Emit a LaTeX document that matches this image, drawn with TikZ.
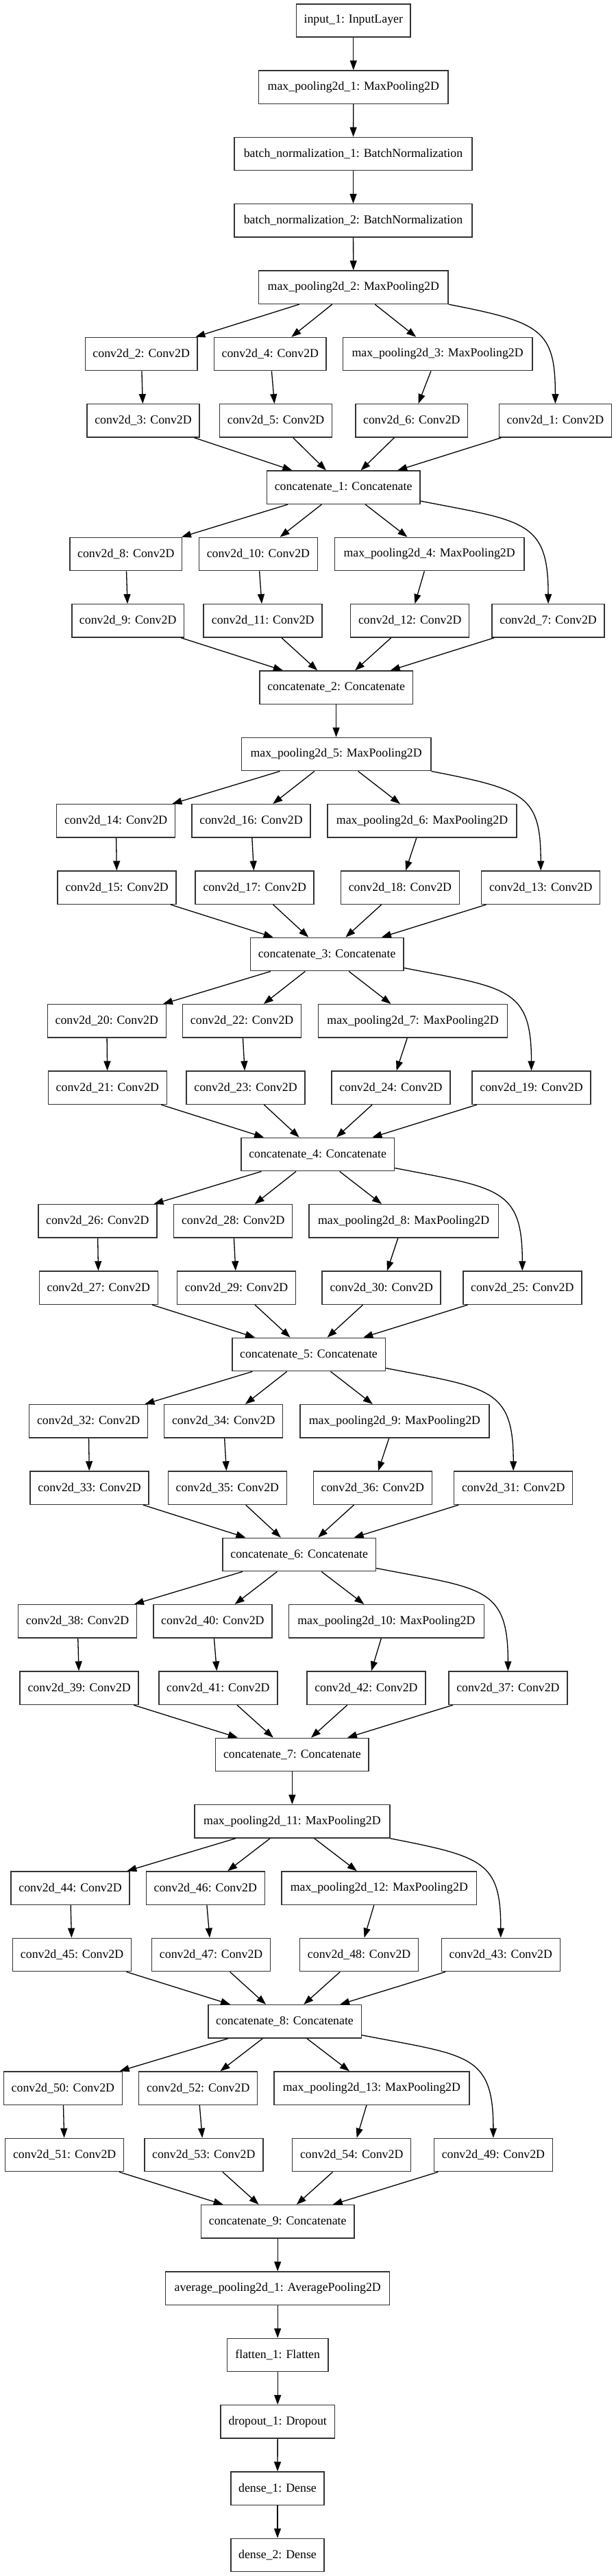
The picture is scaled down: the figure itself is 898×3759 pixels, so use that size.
\documentclass[tikz,border=0pt]{standalone}
\usepackage{fontspec}
\setmainfont{Liberation Serif}
\usetikzlibrary{arrows.meta}
\newcommand\ry[1]{-29.9-97.33*#1}
\newcommand\incblock[9]{%
 \draw[edge] (#1) -- (#2);
 \draw[edge] (#1) -- (#3);
 \draw[edge] (#1) -- (#4);
 \draw[edge] (#1o) to[out=-11,in=90,out looseness=1.65,in looseness=1.3] (#8.north);
 \draw[edge] (#2) -- (#5);
 \draw[edge] (#3) -- (#6);
 \draw[edge] (#4) -- (#7);
 \draw[edge] (#5) -- (#9);
 \draw[edge] (#6) -- (#9);
 \draw[edge] (#7) -- (#9);
 \draw[edge] (#8) -- (#9);
}
\begin{document}
\begin{tikzpicture}[x=1pt,y=1pt,
  box/.style={draw=black!80, line width=1.5pt, rectangle, minimum height=48.3pt, inner sep=0pt,
    font=\fontsize{17.8}{20}\selectfont},
  cA/.style={box, minimum width=163.8pt},
  cB/.style={box, minimum width=173pt},
  cat/.style={box, minimum width=223.5pt},
  mpA/.style={box, minimum width=276.3pt},
  mpB/.style={box, minimum width=284.8pt},
  edge/.style={draw=black, line width=1.3pt, -{Triangle[length=14pt,width=10pt]}}]
\useasboundingbox (0,0) rectangle (898,-3759);
% trunk
\node[box, minimum width=166.7pt] (in1) at (515.8,{\ry{0}}) {input\_1: InputLayer};
\node[mpA] (mp1) at (515.8,{\ry{1}}) {max\_pooling2d\_1: MaxPooling2D};
\node[box, minimum width=347pt] (bn1) at (515.5,{\ry{2}}) {batch\_normalization\_1: BatchNormalization};
\node[box, minimum width=347pt] (bn2) at (515.5,{\ry{3}}) {batch\_normalization\_2: BatchNormalization};
\node[mpA] (mp2) at (515.8,{\ry{4}}) {max\_pooling2d\_2: MaxPooling2D};
% block 1
\node[cA] (c2) at (206.2,{\ry{5}}) {conv2d\_2: Conv2D};
\node[cA] (c4) at (394.3,{\ry{5}}) {conv2d\_4: Conv2D};
\node[mpA] (mp3) at (638.6,{\ry{5}}) {max\_pooling2d\_3: MaxPooling2D};
\node[cA] (c3) at (209.0,{\ry{6}}) {conv2d\_3: Conv2D};
\node[cA] (c5) at (402.6,{\ry{6}}) {conv2d\_5: Conv2D};
\node[cA] (c6) at (600.8,{\ry{6}}) {conv2d\_6: Conv2D};
\node[cA] (c1) at (810.4,{\ry{6}}) {conv2d\_1: Conv2D};
\node[cat] (cat1) at (501.1,{\ry{7}}) {concatenate\_1: Concatenate};
% block 2
\node[cA] (c8) at (183.8,{\ry{8}}) {conv2d\_8: Conv2D};
\node[cB] (c10) at (376.9,{\ry{8}}) {conv2d\_10: Conv2D};
\node[mpA] (mp4) at (626.6,{\ry{8}}) {max\_pooling2d\_4: MaxPooling2D};
\node[cA] (c9) at (186.7,{\ry{9}}) {conv2d\_9: Conv2D};
\node[cB] (c11) at (383.7,{\ry{9}}) {conv2d\_11: Conv2D};
\node[cB] (c12) at (598.2,{\ry{9}}) {conv2d\_12: Conv2D};
\node[cA] (c7) at (800.1,{\ry{9}}) {conv2d\_7: Conv2D};
\node[cat] (cat2) at (490.6,{\ry{10}}) {concatenate\_2: Concatenate};
\node[mpA] (mp5) at (490.6,{\ry{11}}) {max\_pooling2d\_5: MaxPooling2D};
% block 3
\node[cB] (c14) at (169.2,{\ry{12}}) {conv2d\_14: Conv2D};
\node[cB] (c16) at (366.5,{\ry{12}}) {conv2d\_16: Conv2D};
\node[mpA] (mp6) at (616.0,{\ry{12}}) {max\_pooling2d\_6: MaxPooling2D};
\node[cB] (c15) at (170.7,{\ry{13}}) {conv2d\_15: Conv2D};
\node[cB] (c17) at (371.7,{\ry{13}}) {conv2d\_17: Conv2D};
\node[cB] (c18) at (583.9,{\ry{13}}) {conv2d\_18: Conv2D};
\node[cB] (c13) at (789.2,{\ry{13}}) {conv2d\_13: Conv2D};
\node[cat] (cat3) at (477.1,{\ry{14}}) {concatenate\_3: Concatenate};
% block 4
\node[cB] (c20) at (155.8,{\ry{15}}) {conv2d\_20: Conv2D};
\node[cB] (c22) at (353.1,{\ry{15}}) {conv2d\_22: Conv2D};
\node[mpA] (mp7) at (602.5,{\ry{15}}) {max\_pooling2d\_7: MaxPooling2D};
\node[cB] (c21) at (156.9,{\ry{16}}) {conv2d\_21: Conv2D};
\node[cB] (c23) at (358.5,{\ry{16}}) {conv2d\_23: Conv2D};
\node[cB] (c24) at (570.4,{\ry{16}}) {conv2d\_24: Conv2D};
\node[cB] (c19) at (775.5,{\ry{16}}) {conv2d\_19: Conv2D};
\node[cat] (cat4) at (463.6,{\ry{17}}) {concatenate\_4: Concatenate};
% block 5
\node[cB] (c26) at (142.3,{\ry{18}}) {conv2d\_26: Conv2D};
\node[cB] (c28) at (340.2,{\ry{18}}) {conv2d\_28: Conv2D};
\node[mpA] (mp8) at (589.1,{\ry{18}}) {max\_pooling2d\_8: MaxPooling2D};
\node[cB] (c27) at (143.8,{\ry{19}}) {conv2d\_27: Conv2D};
\node[cB] (c29) at (345.1,{\ry{19}}) {conv2d\_29: Conv2D};
\node[cB] (c30) at (556.7,{\ry{19}}) {conv2d\_30: Conv2D};
\node[cB] (c25) at (762.3,{\ry{19}}) {conv2d\_25: Conv2D};
\node[cat] (cat5) at (450.5,{\ry{20}}) {concatenate\_5: Concatenate};
% block 6
\node[cB] (c32) at (129.2,{\ry{21}}) {conv2d\_32: Conv2D};
\node[cB] (c34) at (326.2,{\ry{21}}) {conv2d\_34: Conv2D};
\node[mpA] (mp9) at (575.9,{\ry{21}}) {max\_pooling2d\_9: MaxPooling2D};
\node[cB] (c33) at (130.6,{\ry{22}}) {conv2d\_33: Conv2D};
\node[cB] (c35) at (331.9,{\ry{22}}) {conv2d\_35: Conv2D};
\node[cB] (c36) at (543.8,{\ry{22}}) {conv2d\_36: Conv2D};
\node[cB] (c31) at (749.2,{\ry{22}}) {conv2d\_31: Conv2D};
\node[cat] (cat6) at (436.7,{\ry{23}}) {concatenate\_6: Concatenate};
% block 7
\node[cB] (c38) at (113.1,{\ry{24}}) {conv2d\_38: Conv2D};
\node[cB] (c40) at (310.4,{\ry{24}}) {conv2d\_40: Conv2D};
\node[mpB] (mp10) at (563.9,{\ry{24}}) {max\_pooling2d\_10: MaxPooling2D};
\node[cB] (c39) at (115.7,{\ry{25}}) {conv2d\_39: Conv2D};
\node[cB] (c41) at (318.4,{\ry{25}}) {conv2d\_41: Conv2D};
\node[cB] (c42) at (534.4,{\ry{25}}) {conv2d\_42: Conv2D};
\node[cB] (c37) at (741.4,{\ry{25}}) {conv2d\_37: Conv2D};
\node[cat] (cat7) at (426.4,{\ry{26}}) {concatenate\_7: Concatenate};
\node[mpB] (mp11) at (426.4,{\ry{27}}) {max\_pooling2d\_11: MaxPooling2D};
% block 8
\node[cB] (c44) at (102.5,{\ry{28}}) {conv2d\_44: Conv2D};
\node[cB] (c46) at (299.8,{\ry{28}}) {conv2d\_46: Conv2D};
\node[mpB] (mp12) at (553.3,{\ry{28}}) {max\_pooling2d\_12: MaxPooling2D};
\node[cB] (c45) at (105.1,{\ry{29}}) {conv2d\_45: Conv2D};
\node[cB] (c47) at (308.1,{\ry{29}}) {conv2d\_47: Conv2D};
\node[cB] (c48) at (524.1,{\ry{29}}) {conv2d\_48: Conv2D};
\node[cB] (c43) at (730.8,{\ry{29}}) {conv2d\_43: Conv2D};
\node[cat] (cat8) at (415.5,{\ry{30}}) {concatenate\_8: Concatenate};
% block 9
\node[cB] (c50) at (91.9,{\ry{31}}) {conv2d\_50: Conv2D};
\node[cB] (c52) at (289.2,{\ry{31}}) {conv2d\_52: Conv2D};
\node[mpB] (mp13) at (542.4,{\ry{31}}) {max\_pooling2d\_13: MaxPooling2D};
\node[cB] (c51) at (94.2,{\ry{32}}) {conv2d\_51: Conv2D};
\node[cB] (c53) at (297.3,{\ry{32}}) {conv2d\_53: Conv2D};
\node[cB] (c54) at (513.2,{\ry{32}}) {conv2d\_54: Conv2D};
\node[cB] (c49) at (719.9,{\ry{32}}) {conv2d\_49: Conv2D};
\node[cat] (cat9) at (405.2,{\ry{33}}) {concatenate\_9: Concatenate};
% head
\node[box, minimum width=327pt] (avg) at (405.2,{\ry{34}}) {average\_pooling2d\_1: AveragePooling2D};
\node[box, minimum width=147.2pt] (flat) at (405.2,{\ry{35}}) {flatten\_1: Flatten};
\node[box, minimum width=166.7pt] (drop) at (405.2,{\ry{36}}) {dropout\_1: Dropout};
\node[box, minimum width=136.3pt] (d1) at (405.0,{\ry{37}}) {dense\_1: Dense};
\node[box, minimum width=136.3pt] (d2) at (405.0,{\ry{38}}) {dense\_2: Dense};
% curve start points
\coordinate (mp2o) at (mp2.south east);
\coordinate (mp5o) at (mp5.south east);
\coordinate (mp11o) at (mp11.south east);
\foreach \k in {1,3,4,5,6,8}{\coordinate (cat\k o) at ([yshift=5pt]cat\k.south east);}
% edges
\draw[edge] (in1) -- (mp1);
\draw[edge] (mp1) -- (bn1);
\draw[edge] (bn1) -- (bn2);
\draw[edge] (bn2) -- (mp2);
\incblock{mp2}{c2}{c4}{mp3}{c3}{c5}{c6}{c1}{cat1}
\incblock{cat1}{c8}{c10}{mp4}{c9}{c11}{c12}{c7}{cat2}
\draw[edge] (cat2) -- (mp5);
\incblock{mp5}{c14}{c16}{mp6}{c15}{c17}{c18}{c13}{cat3}
\incblock{cat3}{c20}{c22}{mp7}{c21}{c23}{c24}{c19}{cat4}
\incblock{cat4}{c26}{c28}{mp8}{c27}{c29}{c30}{c25}{cat5}
\incblock{cat5}{c32}{c34}{mp9}{c33}{c35}{c36}{c31}{cat6}
\incblock{cat6}{c38}{c40}{mp10}{c39}{c41}{c42}{c37}{cat7}
\draw[edge] (cat7) -- (mp11);
\incblock{mp11}{c44}{c46}{mp12}{c45}{c47}{c48}{c43}{cat8}
\incblock{cat8}{c50}{c52}{mp13}{c51}{c53}{c54}{c49}{cat9}
\draw[edge] (cat9) -- (avg);
\draw[edge] (avg) -- (flat);
\draw[edge] (flat) -- (drop);
\draw[edge] (drop) -- (d1);
\draw[edge] (d1) -- (d2);
\end{tikzpicture}
\end{document}
